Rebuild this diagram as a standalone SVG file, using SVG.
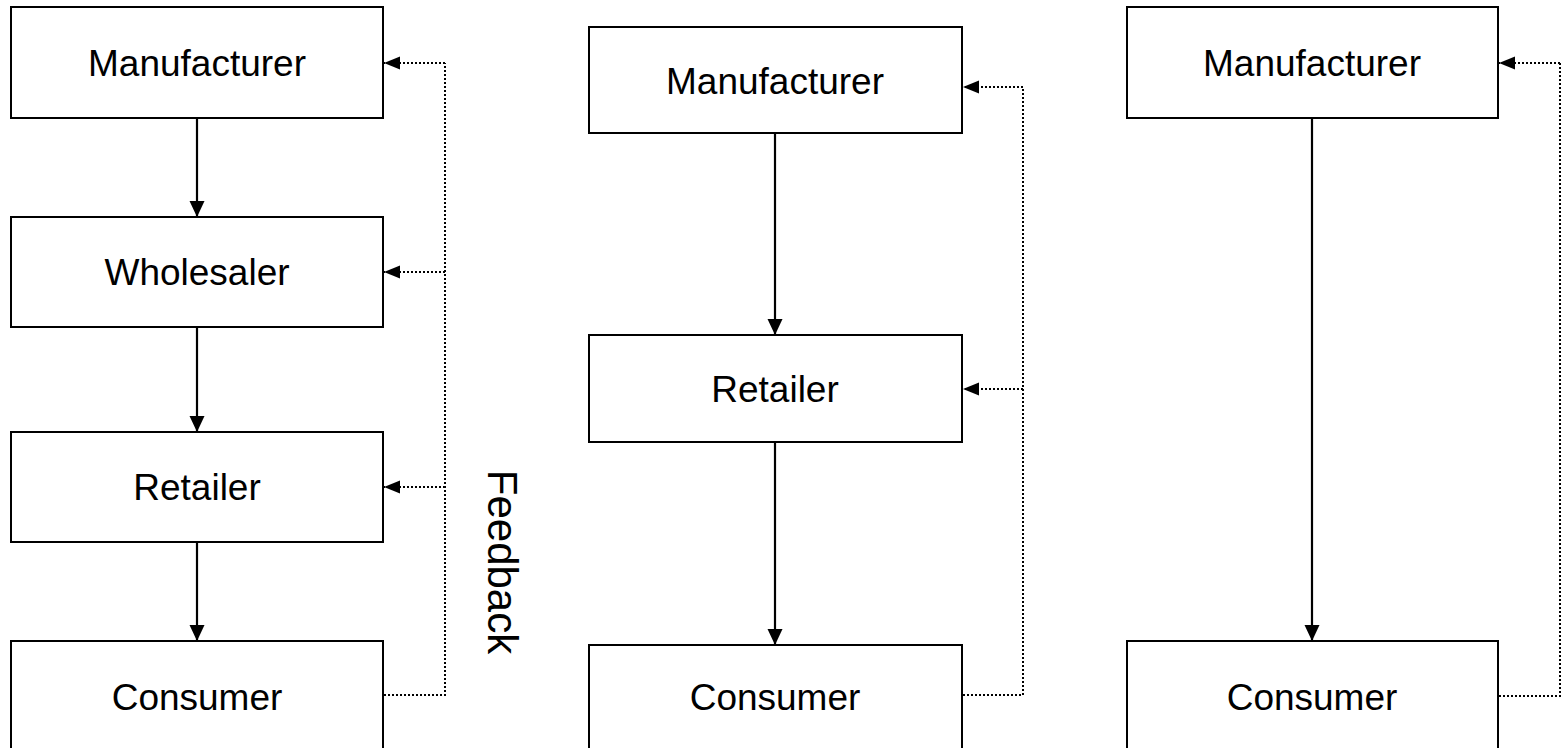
<svg xmlns="http://www.w3.org/2000/svg" width="1565" height="748" viewBox="0 0 1565 748">
<style>
.box{fill:#fff;stroke:#000;stroke-width:2}
.lbl{font-family:"Liberation Sans",Arial,sans-serif;font-size:37px;fill:#000;text-anchor:middle}
.flow{stroke:#000;stroke-width:2.2;fill:none;marker-end:url(#ah)}
.fb{stroke:#000;stroke-width:2;fill:none;stroke-dasharray:2 2}
.fba{stroke:#000;stroke-width:2;fill:none;stroke-dasharray:2 2;marker-end:url(#ah2)}
</style>
<defs>
<marker id="ah" markerWidth="16" markerHeight="16" viewBox="0 0 16 16" refX="16" refY="8" orient="auto" markerUnits="userSpaceOnUse"><path d="M0,0.5 L16,8 L0,15.5 Z" fill="#000"/></marker>
<marker id="ah2" markerWidth="16" markerHeight="14" viewBox="0 0 16 14" refX="16" refY="7" orient="auto" markerUnits="userSpaceOnUse"><path d="M0,0.5 L16,7 L0,13.5 Z" fill="#000"/></marker>
</defs>
<rect width="1565" height="748" fill="#fff"/>
<g id="connectors">
<line class="flow" x1="197" y1="118" x2="197" y2="217"/>
<line class="flow" x1="197" y1="327" x2="197" y2="432"/>
<line class="flow" x1="197" y1="542" x2="197" y2="641"/>
<line class="flow" x1="775" y1="133" x2="775" y2="335"/>
<line class="flow" x1="775" y1="442" x2="775" y2="645"/>
<line class="flow" x1="1312" y1="118" x2="1312" y2="641"/>
<polyline class="fb" points="384,695 445,695 445,63"/>
<line class="fba" x1="445" y1="63" x2="384" y2="63"/>
<line class="fba" x1="445" y1="272" x2="384" y2="272"/>
<line class="fba" x1="445" y1="487" x2="384" y2="487"/>
<polyline class="fb" points="963,695 1023,695 1023,87"/>
<line class="fba" x1="1023" y1="87" x2="963" y2="87"/>
<line class="fba" x1="1023" y1="389" x2="963" y2="389"/>
<polyline class="fb" points="1499,696 1560,696 1560,63"/>
<line class="fba" x1="1560" y1="63" x2="1499" y2="63"/>
</g>
<g id="c1-manufacturer"><rect class="box" x="11" y="7" width="372" height="111"/><text class="lbl" x="197" y="76">Manufacturer</text></g>
<g id="c1-wholesaler"><rect class="box" x="11" y="217" width="372" height="110"/><text class="lbl" x="197" y="285">Wholesaler</text></g>
<g id="c1-retailer"><rect class="box" x="11" y="432" width="372" height="110"/><text class="lbl" x="197" y="500">Retailer</text></g>
<g id="c1-consumer"><rect class="box" x="11" y="641" width="372" height="112"/><text class="lbl" x="197" y="710">Consumer</text></g>
<g id="feedback-label"><text class="lbl" style="font-size:42px" transform="translate(488,562) rotate(90)">Feedback</text></g>
<g id="c2-manufacturer"><rect class="box" x="589" y="27" width="373" height="106"/><text class="lbl" x="775" y="94">Manufacturer</text></g>
<g id="c2-retailer"><rect class="box" x="589" y="335" width="373" height="107"/><text class="lbl" x="775" y="402">Retailer</text></g>
<g id="c2-consumer"><rect class="box" x="589" y="645" width="373" height="108"/><text class="lbl" x="775" y="710">Consumer</text></g>
<g id="c3-manufacturer"><rect class="box" x="1127" y="7" width="371" height="111"/><text class="lbl" x="1312" y="76">Manufacturer</text></g>
<g id="c3-consumer"><rect class="box" x="1127" y="641" width="371" height="112"/><text class="lbl" x="1312" y="710">Consumer</text></g>
</svg>
